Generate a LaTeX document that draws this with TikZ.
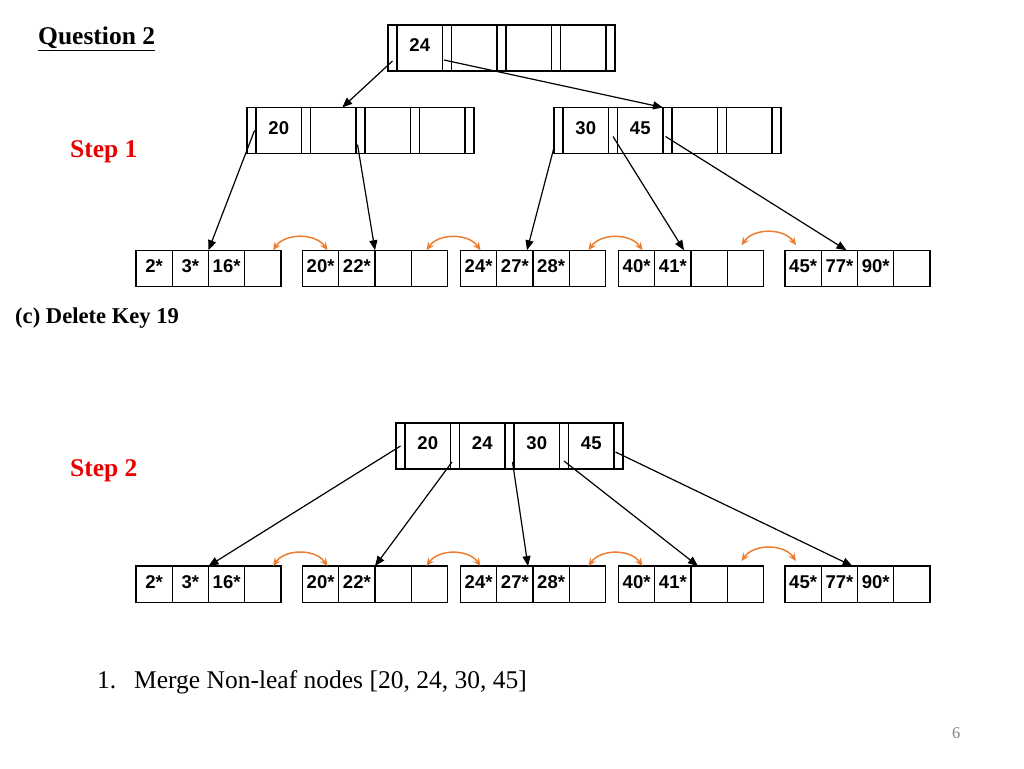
\documentclass[tikz,border=0pt]{standalone}
\usepackage{fontspec}
\setmainfont{Liberation Serif}
\setsansfont{Liberation Sans}
\usepackage{tikz}
\usetikzlibrary{positioning,arrows.meta}
\definecolor{stepred}{RGB}{232,0,0}
\definecolor{linkorange}{RGB}{237,125,49}
\definecolor{pagegray}{RGB}{130,130,130}

\newcommand\bpnode[4]{%
  \node[ptr, anchor=west] (#1p0) at (#2,#3) {};
  \foreach \k [count=\i, remember=\i as \l (initially 0)] in {#4}{
    \node[key, right=0pt of #1p\l] (#1k\i) {\k};
    \node[ptr, right=0pt of #1k\i] (#1p\i) {};
  }
}
\newcommand\leafnode[4]{%
  \coordinate (#1c0) at (#2,#3);
  \foreach \k [count=\i, remember=\i as \l (initially 0)] in {#4}
    \node[leaf, right=0pt of #1c\l] (#1c\i) {\k};
}

\begin{document}
\begin{tikzpicture}[x=1pt, y=-1pt,
  ptr/.style={draw, line width=1.3pt, minimum width=9pt, minimum height=46pt, inner sep=0pt, outer sep=0pt},
  key/.style={ptr, minimum width=45.5pt, font=\sffamily\bfseries\fontsize{18.5}{20}\selectfont, text height=13pt, text depth=6pt},
  leaf/.style={key, minimum width=36.25pt, minimum height=36.5pt, text depth=5pt},
  tree/.style={line width=1.2pt, -{Triangle[length=10pt,width=8pt]}},
  link/.style={linkorange, line width=1.5pt, {Stealth[length=8pt,width=7pt]}-{Stealth[length=8pt,width=7pt]}, bend left=55},
  lbl/.style={inner sep=0pt, anchor=base west},
  steptext/.style={text=stepred, font=\bfseries\fontsize{25.5}{30}\selectfont}]
\useasboundingbox (0,0) rectangle (1024,768);

\node[lbl, font=\bfseries\fontsize{25.5}{30}\selectfont] (question) at (38,45) {\underline{Question 2}};
\node[lbl, steptext] (step1) at (70,157.5) {Step 1};
\node[lbl, font=\bfseries\fontsize{22.6}{27}\selectfont] (delete) at (15,323) {(c) Delete Key 19};
\node[lbl, steptext] (step2) at (70,476.5) {Step 2};
\node[lbl, font=\fontsize{25.5}{30}\selectfont] (merge) at (97,688.5) {\makebox[37pt][l]{1.}Merge Non-leaf nodes [20, 24, 30, 45]};
\node[lbl, font=\fontsize{16.5}{18}\selectfont, text=pagegray] (page) at (952,738.5) {6};

\bpnode{rt}{388}{48}{24,{},{},{}}
\bpnode{la}{247}{130.5}{20,{},{},{}}
\bpnode{ra}{554}{130.5}{30,45,{},{}}
\bpnode{mg}{396}{446}{20,24,30,45}

\foreach \s/\y in {l/268.5, m/584.3}{
  \leafnode{\s1}{136}{\y}{2*,3*,16*,{}}
  \leafnode{\s2}{302.5}{\y}{20*,22*,{},{}}
  \leafnode{\s3}{460.5}{\y}{24*,27*,28*,{}}
  \leafnode{\s4}{618.5}{\y}{40*,41*,{},{}}
  \leafnode{\s5}{785}{\y}{45*,77*,90*,{}}
  \draw[link] ([xshift=-8pt]\s1c4.north east) to ([xshift=25pt]\s2c1.north west);
  \draw[link] ([xshift=-21pt]\s2c4.north east) to ([xshift=20pt]\s3c1.north west);
  \draw[link] ([xshift=-17pt]\s3c4.north east) to ([xshift=24pt]\s4c1.north west);
  \draw[link] ([xshift=-22pt,yshift=5pt]\s4c4.north east) to ([xshift=11pt,yshift=5pt]\s5c1.north west);
}

\draw[tree] ([yshift=-13pt]rtp0.center) -- ([xshift=9pt]lak2.north);
\draw[tree] ([xshift=-3pt,yshift=-12pt]rtp1.center) -- (rak2.north east);
\draw[tree] ([xshift=3pt]lap0.center) -- (l1c2.north east);
\draw[tree] ([xshift=-3pt,yshift=-14pt]lap2.center) -- (l2c2.north east);
\draw[tree] ([yshift=6pt]rap0.south west) -- ([xshift=-6pt]l3c2.north east);
\draw[tree] ([yshift=-6pt]rap1.center) -- ([xshift=-7pt]l4c2.north east);
\draw[tree] ([xshift=-2pt,yshift=-6pt]rap2.center) -- ([xshift=-11pt]l5c2.north east);

\draw[tree] (mgp0.center) -- (m1c2.north east);
\draw[tree] ([xshift=-3pt,yshift=-16pt]mgp1.center) -- (m2c2.north east);
\draw[tree] ([xshift=3pt,yshift=-16pt]mgp2.center) -- ([xshift=-5pt]m3c2.north east);
\draw[tree] ([yshift=-15pt]mgp3.center) -- ([xshift=7pt]m4c2.north east);
\draw[tree] ([xshift=-3pt,yshift=-6pt]mgp4.center) -- ([xshift=-5pt]m5c2.north east);
\end{tikzpicture}
\end{document}
